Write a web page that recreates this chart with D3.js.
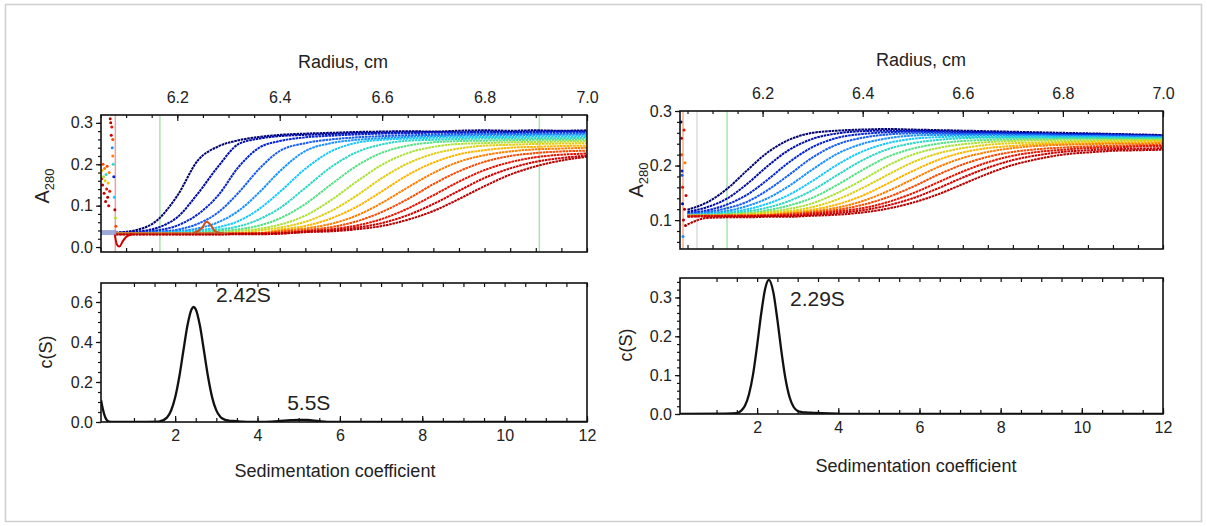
<!DOCTYPE html>
<html>
<head>
<meta charset="utf-8">
<script src="https://cdn.jsdelivr.net/npm/d3@7"></script>
<style>
  body { margin: 0; background: #fff; }
  svg { font-family: "Liberation Sans", Arial, sans-serif; }
</style>
</head>
<body>
<svg id="chart" width="1207" height="526"></svg>
<script>
// ---- data ----
// left sample: absorbance scans (A280) on a shared radius grid, earliest scan first
const radiusGridL = [6.08, 6.12, 6.16, 6.20, 6.24, 6.28, 6.32, 6.36, 6.40, 6.45, 6.50, 6.55, 6.60, 6.65, 6.70, 6.75, 6.80, 6.85, 6.90, 6.95, 7.00];
const scansL = [
  [0.035,0.041,0.064,0.124,0.209,0.243,0.258,0.266,0.271,0.274,0.276,0.278,0.279,0.280,0.279,0.281,0.282,0.281,0.282,0.281,0.282],
  [0.034,0.037,0.046,0.072,0.129,0.195,0.249,0.262,0.268,0.271,0.273,0.275,0.276,0.277,0.278,0.277,0.279,0.278,0.279,0.280,0.279],
  [0.034,0.035,0.040,0.052,0.079,0.125,0.194,0.240,0.256,0.265,0.269,0.272,0.274,0.275,0.276,0.276,0.277,0.276,0.277,0.278,0.277],
  [0.033,0.034,0.037,0.042,0.056,0.084,0.132,0.189,0.232,0.251,0.260,0.265,0.268,0.270,0.271,0.272,0.273,0.273,0.274,0.274,0.275],
  [0.033,0.033,0.035,0.038,0.045,0.060,0.088,0.132,0.183,0.232,0.251,0.259,0.263,0.266,0.268,0.269,0.270,0.270,0.271,0.271,0.272],
  [0.033,0.033,0.034,0.036,0.040,0.048,0.063,0.092,0.133,0.189,0.231,0.252,0.259,0.262,0.264,0.265,0.266,0.266,0.267,0.267,0.268],
  [0.033,0.033,0.033,0.034,0.037,0.042,0.050,0.067,0.094,0.143,0.193,0.229,0.248,0.257,0.259,0.261,0.262,0.262,0.263,0.263,0.264],
  [0.033,0.033,0.033,0.033,0.034,0.038,0.043,0.052,0.069,0.104,0.151,0.196,0.228,0.245,0.253,0.256,0.257,0.258,0.259,0.259,0.260],
  [0.033,0.033,0.033,0.033,0.033,0.034,0.039,0.044,0.054,0.076,0.113,0.158,0.199,0.227,0.242,0.249,0.251,0.253,0.254,0.255,0.256],
  [0.033,0.033,0.033,0.033,0.033,0.033,0.034,0.040,0.047,0.061,0.087,0.124,0.167,0.202,0.225,0.238,0.245,0.247,0.249,0.250,0.251],
  [0.033,0.033,0.033,0.033,0.033,0.033,0.033,0.034,0.042,0.051,0.069,0.097,0.135,0.174,0.204,0.224,0.234,0.240,0.242,0.244,0.245],
  [0.033,0.033,0.033,0.033,0.033,0.033,0.033,0.033,0.039,0.045,0.056,0.076,0.107,0.144,0.179,0.206,0.222,0.231,0.236,0.238,0.240],
  [0.032,0.032,0.032,0.032,0.032,0.033,0.033,0.033,0.037,0.041,0.048,0.062,0.085,0.116,0.152,0.183,0.206,0.220,0.227,0.231,0.233],
  [0.032,0.032,0.032,0.032,0.032,0.032,0.032,0.033,0.034,0.038,0.043,0.052,0.068,0.093,0.125,0.158,0.186,0.205,0.217,0.223,0.226],
  [0.031,0.031,0.031,0.031,0.031,0.031,0.032,0.032,0.033,0.037,0.040,0.047,0.058,0.077,0.104,0.136,0.167,0.190,0.206,0.215,0.221],
  [0.030,0.030,0.030,0.030,0.030,0.030,0.031,0.031,0.032,0.036,0.038,0.043,0.051,0.066,0.087,0.116,0.147,0.175,0.195,0.209,0.218]
];
// noisy points left of the meniscus: [radius, A280, scan index]
const preMeniscusL = [
  [6.052,0.165,13],[6.053,0.185,10],[6.054,0.150,15],[6.055,0.200,12],[6.056,0.170,8],
  [6.057,0.130,14],[6.058,0.190,11],[6.059,0.160,9],[6.060,0.110,15],[6.061,0.175,6],
  [6.062,0.140,13],[6.063,0.195,12],[6.064,0.120,15],[6.065,0.155,10],[6.066,0.100,14],
  [6.067,0.180,11],[6.068,0.135,13],[6.069,0.310,15],[6.070,0.300,15],[6.071,0.270,14],
  [6.072,0.290,13],[6.073,0.240,4],[6.074,0.260,12],[6.074,0.220,11],[6.075,0.200,6],
  [6.076,0.170,2],[6.077,0.120,5],[6.078,0.090,15],[6.079,0.070,8],[6.080,0.050,12]
];
// small artefacts on the baseline
const dipR = [6.078, 6.082, 6.087, 6.093, 6.100, 6.112];
const dipA = [0.030, 0.006, 0.001, 0.013, 0.024, 0.031];
const bumpR = [6.232, 6.248, 6.257, 6.264, 6.274, 6.290];
const bumpA = [0.034, 0.046, 0.061, 0.055, 0.038, 0.033];
const linesL = [6.079, 6.166, 6.907];      // meniscus, fit limits

// right sample
const radiusGridR = [6.05, 6.09, 6.13, 6.17, 6.21, 6.25, 6.30, 6.35, 6.40, 6.45, 6.50, 6.55, 6.60, 6.65, 6.70, 6.75, 6.80, 6.85, 6.90, 6.95, 7.00];
const scansR = [
  [0.119,0.133,0.158,0.192,0.224,0.246,0.260,0.264,0.266,0.267,0.266,0.265,0.264,0.263,0.262,0.261,0.260,0.259,0.258,0.257,0.256],
  [0.115,0.124,0.140,0.167,0.199,0.227,0.249,0.259,0.263,0.264,0.264,0.263,0.262,0.261,0.260,0.259,0.258,0.258,0.257,0.256,0.255],
  [0.113,0.118,0.129,0.147,0.174,0.204,0.234,0.251,0.258,0.261,0.262,0.261,0.260,0.260,0.259,0.258,0.257,0.257,0.256,0.255,0.254],
  [0.111,0.115,0.122,0.134,0.155,0.181,0.215,0.239,0.251,0.257,0.259,0.259,0.258,0.258,0.257,0.257,0.256,0.255,0.255,0.254,0.253],
  [0.110,0.113,0.117,0.126,0.140,0.161,0.193,0.222,0.240,0.250,0.255,0.256,0.256,0.256,0.255,0.255,0.254,0.254,0.253,0.253,0.252],
  [0.109,0.111,0.114,0.120,0.130,0.145,0.172,0.202,0.226,0.241,0.249,0.252,0.253,0.253,0.253,0.253,0.252,0.252,0.252,0.251,0.251],
  [0.108,0.110,0.112,0.116,0.123,0.134,0.155,0.183,0.210,0.230,0.241,0.247,0.250,0.251,0.251,0.251,0.251,0.251,0.250,0.250,0.250],
  [0.108,0.109,0.111,0.113,0.118,0.126,0.141,0.165,0.192,0.216,0.231,0.240,0.245,0.247,0.248,0.248,0.249,0.249,0.249,0.249,0.249],
  [0.108,0.108,0.110,0.112,0.115,0.120,0.131,0.150,0.174,0.200,0.220,0.232,0.239,0.243,0.245,0.246,0.246,0.246,0.247,0.247,0.247],
  [0.108,0.108,0.109,0.110,0.113,0.116,0.124,0.138,0.159,0.183,0.206,0.222,0.232,0.238,0.241,0.242,0.243,0.244,0.244,0.245,0.245],
  [0.108,0.108,0.108,0.109,0.110,0.114,0.119,0.129,0.145,0.167,0.190,0.210,0.224,0.232,0.236,0.239,0.240,0.241,0.242,0.242,0.243],
  [0.108,0.108,0.108,0.108,0.109,0.112,0.116,0.123,0.135,0.153,0.175,0.197,0.214,0.225,0.232,0.236,0.238,0.239,0.240,0.240,0.241],
  [0.107,0.108,0.108,0.108,0.109,0.111,0.114,0.119,0.128,0.142,0.161,0.183,0.202,0.216,0.225,0.230,0.233,0.235,0.236,0.237,0.238],
  [0.107,0.107,0.108,0.108,0.108,0.109,0.112,0.116,0.122,0.133,0.149,0.169,0.189,0.206,0.218,0.225,0.229,0.232,0.233,0.235,0.236],
  [0.106,0.107,0.107,0.107,0.108,0.108,0.110,0.113,0.118,0.127,0.140,0.158,0.178,0.196,0.210,0.219,0.225,0.228,0.230,0.231,0.232],
  [0.092,0.104,0.105,0.105,0.106,0.106,0.108,0.110,0.114,0.121,0.132,0.147,0.166,0.185,0.201,0.212,0.220,0.224,0.227,0.228,0.229]
];
const preMeniscusR = [
  [6.037,0.280,0],[6.038,0.250,14],[6.038,0.220,12],[6.039,0.190,2],[6.039,0.182,3],
  [6.040,0.160,13],[6.040,0.130,1],[6.041,0.070,4],[6.042,0.100,15],[6.043,0.265,13],
  [6.044,0.120,15],[6.045,0.205,11],[6.046,0.090,15],[6.047,0.145,14]
];
const linesR = [6.041, 6.069, 6.129];

// c(s) distributions
const sedL = [0.2,0.25,0.3,0.35,0.4,0.5,1.0,1.6,1.8,1.9,2.0,2.1,2.2,2.3,2.4,2.45,2.5,2.6,2.7,2.8,2.9,3.0,3.1,3.2,3.3,3.4,3.6,3.8,4.2,4.5,4.8,5.0,5.2,5.5,5.7,6.0,12.0];
const cOfSL = [0.11,0.06,0.025,0.008,0.002,0,0,0.002,0.022,0.056,0.122,0.225,0.356,0.484,0.564,0.575,0.564,0.484,0.356,0.225,0.122,0.058,0.025,0.012,0.007,0.005,0.002,0,0.001,0.004,0.009,0.011,0.010,0.004,0.001,0,0];
const sedR = [0.1,1.2,1.5,1.6,1.7,1.8,1.9,2.0,2.1,2.2,2.29,2.4,2.5,2.6,2.7,2.8,2.9,3.0,3.1,3.2,3.4,3.6,4.0,4.1,12.0];
const cOfSR = [0,0.001,0.002,0.008,0.021,0.051,0.102,0.176,0.258,0.323,0.345,0.313,0.242,0.160,0.090,0.043,0.018,0.008,0.005,0.004,0.003,0.002,0.001,0,0];

// tick labels
const radiusTicks = [6.2, 6.4, 6.6, 6.8, 7.0];
const sedTicks = [2, 4, 6, 8, 10, 12];
const absTicksL = [0.0, 0.1, 0.2, 0.3];
const absTicksR = [0.1, 0.2, 0.3];
const cTicksL = [0.0, 0.2, 0.4, 0.6];
const cTicksR = [0.0, 0.1, 0.2, 0.3];

// ---- drawing ----
const svg = d3.select("#chart");
const FONT = "'Liberation Sans', Arial, sans-serif";
const TICK_FONT = 16, TITLE_FONT = 18;

svg.append("rect")
  .attr("x", 5.5).attr("y", 4.5)
  .attr("width", 1196).attr("height", 517)
  .attr("fill", "none").attr("stroke", "#cfcfcf").attr("stroke-width", 1.5);

// jet-like palette over scan index
const jet = d3.scaleLinear()
  .domain(d3.range(10).map(i => i / 9))
  .range(["#00006e","#0010c8","#1c6cff","#18c8ff","#3ce0a0","#c8e020","#ffb400","#ff5a00","#e00000","#b40000"]);

function styleAxis(g, size) {
  g.select(".domain").remove();
  g.selectAll("line").attr("stroke", "#111").attr("stroke-width", 1.2);
  g.selectAll("text").attr("font-size", size).attr("fill", "#222").attr("font-family", FONT);
}

function addClip(id, box) {
  svg.append("clipPath").attr("id", id)
    .append("rect")
    .attr("x", box.left).attr("y", box.top)
    .attr("width", box.right - box.left).attr("height", box.bottom - box.top);
}

function scanPanel(id, box, xDomain, yDomain, yTicks, grid, scans, scatter, vlines, vColors) {
  const x = d3.scaleLinear().domain(xDomain).range([box.left, box.right]);
  const y = d3.scaleLinear().domain(yDomain).range([box.bottom, box.top]);
  addClip(id, box);
  const plot = svg.append("g").attr("clip-path", `url(#${id})`);

  // meniscus and fit limits
  vlines.forEach((r, i) => {
    plot.append("line")
      .attr("x1", x(r)).attr("x2", x(r))
      .attr("y1", box.top).attr("y2", box.bottom)
      .attr("stroke", vColors[i])
      .attr("stroke-width", 1.5);
  });

  const line = d3.line().x(d => x(d[0])).y(d => y(d[1])).curve(d3.curveMonotoneX);
  const n = scans.length;
  scans.forEach((scan, k) => {
    plot.append("path")
      .datum(grid.map((r, j) => [r, scan[j]]))
      .attr("d", line)
      .attr("fill", "none")
      .attr("stroke", jet(k / (n - 1)))
      .attr("stroke-width", 2)
      .attr("stroke-dasharray", "2.6 0.7");
  });

  plot.selectAll("circle.pre")
    .data(scatter)
    .join("circle")
    .attr("class", "pre")
    .attr("cx", d => x(d[0]))
    .attr("cy", d => y(d[1]))
    .attr("r", 1.5)
    .attr("fill", d => jet(d[2] / (n - 1)));

  // axes
  const minorX = d3.range(6.05, 7.0001, 0.05);
  svg.append("g").attr("transform", `translate(0,${box.top})`)
    .call(d3.axisTop(x).tickValues(radiusTicks).tickSize(-6).tickPadding(12).tickFormat(d3.format(".1f")))
    .call(g => styleAxis(g, TICK_FONT));
  svg.append("g").attr("transform", `translate(0,${box.top})`)
    .call(d3.axisTop(x).tickValues(minorX).tickSize(-3).tickFormat(""))
    .call(g => styleAxis(g, TICK_FONT));
  svg.append("g").attr("transform", `translate(0,${box.bottom})`)
    .call(d3.axisBottom(x).tickValues(minorX).tickSize(-4).tickFormat(""))
    .call(g => styleAxis(g, TICK_FONT));
  svg.append("g").attr("transform", `translate(${box.left},0)`)
    .call(d3.axisLeft(y).tickValues(yTicks).tickSize(5).tickPadding(3).tickFormat(d3.format(".1f")))
    .call(g => styleAxis(g, TICK_FONT));
  const minorY = d3.range(0, 0.3001, 0.02).filter(v => v >= yDomain[0] && v <= yDomain[1]);
  svg.append("g").attr("transform", `translate(${box.left},0)`)
    .call(d3.axisLeft(y).tickValues(minorY).tickSize(3).tickFormat(""))
    .call(g => styleAxis(g, TICK_FONT));

  svg.append("rect")
    .attr("x", box.left).attr("y", box.top)
    .attr("width", box.right - box.left).attr("height", box.bottom - box.top)
    .attr("fill", "none").attr("stroke", "#111").attr("stroke-width", 1.6);

  return { x, y, plot, line };
}

function distPanel(id, box, xDomain, yDomain, yTicks, yMinorStep, sed, cs) {
  const x = d3.scaleLinear().domain(xDomain).range([box.left, box.right]);
  const y = d3.scaleLinear().domain(yDomain).range([box.bottom, box.top]);
  addClip(id, box);
  const plot = svg.append("g").attr("clip-path", `url(#${id})`);
  const line = d3.line().x(d => x(d[0])).y(d => y(d[1])).curve(d3.curveMonotoneX);
  plot.append("path")
    .datum(sed.map((s, i) => [s, cs[i]]))
    .attr("d", line)
    .attr("fill", "none")
    .attr("stroke", "#111")
    .attr("stroke-width", 2.3);

  const minorX = d3.range(1, 12.0001, 0.5);
  svg.append("g").attr("transform", `translate(0,${box.bottom})`)
    .call(d3.axisBottom(x).tickValues(sedTicks).tickSize(-6).tickPadding(8))
    .call(g => styleAxis(g, TICK_FONT));
  svg.append("g").attr("transform", `translate(0,${box.bottom})`)
    .call(d3.axisBottom(x).tickValues(minorX).tickSize(-4).tickFormat(""))
    .call(g => styleAxis(g, TICK_FONT));
  svg.append("g").attr("transform", `translate(0,${box.top})`)
    .call(d3.axisTop(x).tickValues(minorX).tickSize(-4).tickFormat(""))
    .call(g => styleAxis(g, TICK_FONT));
  svg.append("g").attr("transform", `translate(${box.left},0)`)
    .call(d3.axisLeft(y).tickValues(yTicks).tickSize(5).tickPadding(3).tickFormat(d3.format(".1f")))
    .call(g => styleAxis(g, TICK_FONT));
  svg.append("g").attr("transform", `translate(${box.left},0)`)
    .call(d3.axisLeft(y).tickValues(d3.range(0, yDomain[1], yMinorStep)).tickSize(3).tickFormat(""))
    .call(g => styleAxis(g, TICK_FONT));

  svg.append("rect")
    .attr("x", box.left).attr("y", box.top)
    .attr("width", box.right - box.left).attr("height", box.bottom - box.top)
    .attr("fill", "none").attr("stroke", "#111").attr("stroke-width", 1.6);
  return { x, y };
}

function title(txt, cx, cy, rotate) {
  const t = svg.append("text")
    .attr("text-anchor", "middle")
    .attr("font-size", TITLE_FONT)
    .attr("font-family", FONT)
    .attr("fill", "#222")
    .text(txt);
  if (rotate) t.attr("transform", `translate(${cx},${cy}) rotate(-90)`);
  else t.attr("x", cx).attr("y", cy);
  return t;
}

function a280(cx, cy) {
  const t = svg.append("text")
    .attr("text-anchor", "middle")
    .attr("font-size", TITLE_FONT + 2)
    .attr("font-family", FONT)
    .attr("fill", "#222")
    .attr("transform", `translate(${cx},${cy}) rotate(-90)`);
  t.append("tspan").text("A");
  t.append("tspan").attr("font-size", 13).attr("dy", 5).text("280");
}

function note(txt, px, py) {
  svg.append("text").attr("x", px).attr("y", py)
    .attr("font-size", 21).attr("font-family", FONT).attr("fill", "#222").text(txt);
}

// ---- left column ----
const boxTL = { left: 101, right: 587, top: 115, bottom: 252 };
const tl = scanPanel("clipTL", boxTL, [6.051, 7.0], [-0.012, 0.319], absTicksL, radiusGridL, scansL, preMeniscusL,
  linesL, ["#f0a0a0", "#a8e4b0", "#a8e4b0"]);
// baseline band before the meniscus and baseline artefacts
tl.plot.append("line")
  .attr("x1", tl.x(6.051)).attr("x2", tl.x(6.081))
  .attr("y1", tl.y(0.035)).attr("y2", tl.y(0.035))
  .attr("stroke", "#8d9bd0").attr("stroke-width", 5).attr("opacity", 0.85);
tl.plot.append("line")
  .attr("x1", tl.x(6.081)).attr("x2", tl.x(6.30))
  .attr("y1", tl.y(0.034)).attr("y2", tl.y(0.034))
  .attr("stroke", "#b08a60").attr("stroke-width", 1.2).attr("opacity", 0.7);
tl.plot.append("path").datum(dipR.map((r, i) => [r, dipA[i]]))
  .attr("d", tl.line).attr("fill", "none").attr("stroke", "#d40000").attr("stroke-width", 2);
tl.plot.append("path").datum(bumpR.map((r, i) => [r, bumpA[i]]))
  .attr("d", tl.line).attr("fill", "none").attr("stroke", "#d0501c").attr("stroke-width", 2);

const boxBL = { left: 101, right: 587, top: 283, bottom: 422 };
const bl = distPanel("clipBL", boxBL, [0.2, 12], [0, 0.695], cTicksL, 0.05, sedL, cOfSL);

title("Radius, cm", 343, 68);
a280(49, 186);
title("c(S)", 52, 352, true);
title("Sedimentation coefficient", 335, 477);
note("2.42S", bl.x(2.99), bl.y(0.6));
note("5.5S", bl.x(4.72), bl.y(0.06));

// ---- right column ----
const boxTR = { left: 680, right: 1163, top: 111, bottom: 249 };
scanPanel("clipTR", boxTR, [6.035, 7.0], [0.047, 0.3], absTicksR, radiusGridR, scansR, preMeniscusR,
  linesR, ["#f0b090", "#dcdcdc", "#a8e4b0"]);

const boxBR = { left: 680, right: 1163, top: 278, bottom: 414 };
const br = distPanel("clipBR", boxBR, [0.1, 12], [0, 0.35], cTicksR, 0.02, sedR, cOfSR);

title("Radius, cm", 921, 66);
a280(643, 180);
title("c(S)", 632, 345, true);
title("Sedimentation coefficient", 916, 472);
note("2.29S", br.x(2.81), br.y(0.278));
</script>
</body>
</html>
